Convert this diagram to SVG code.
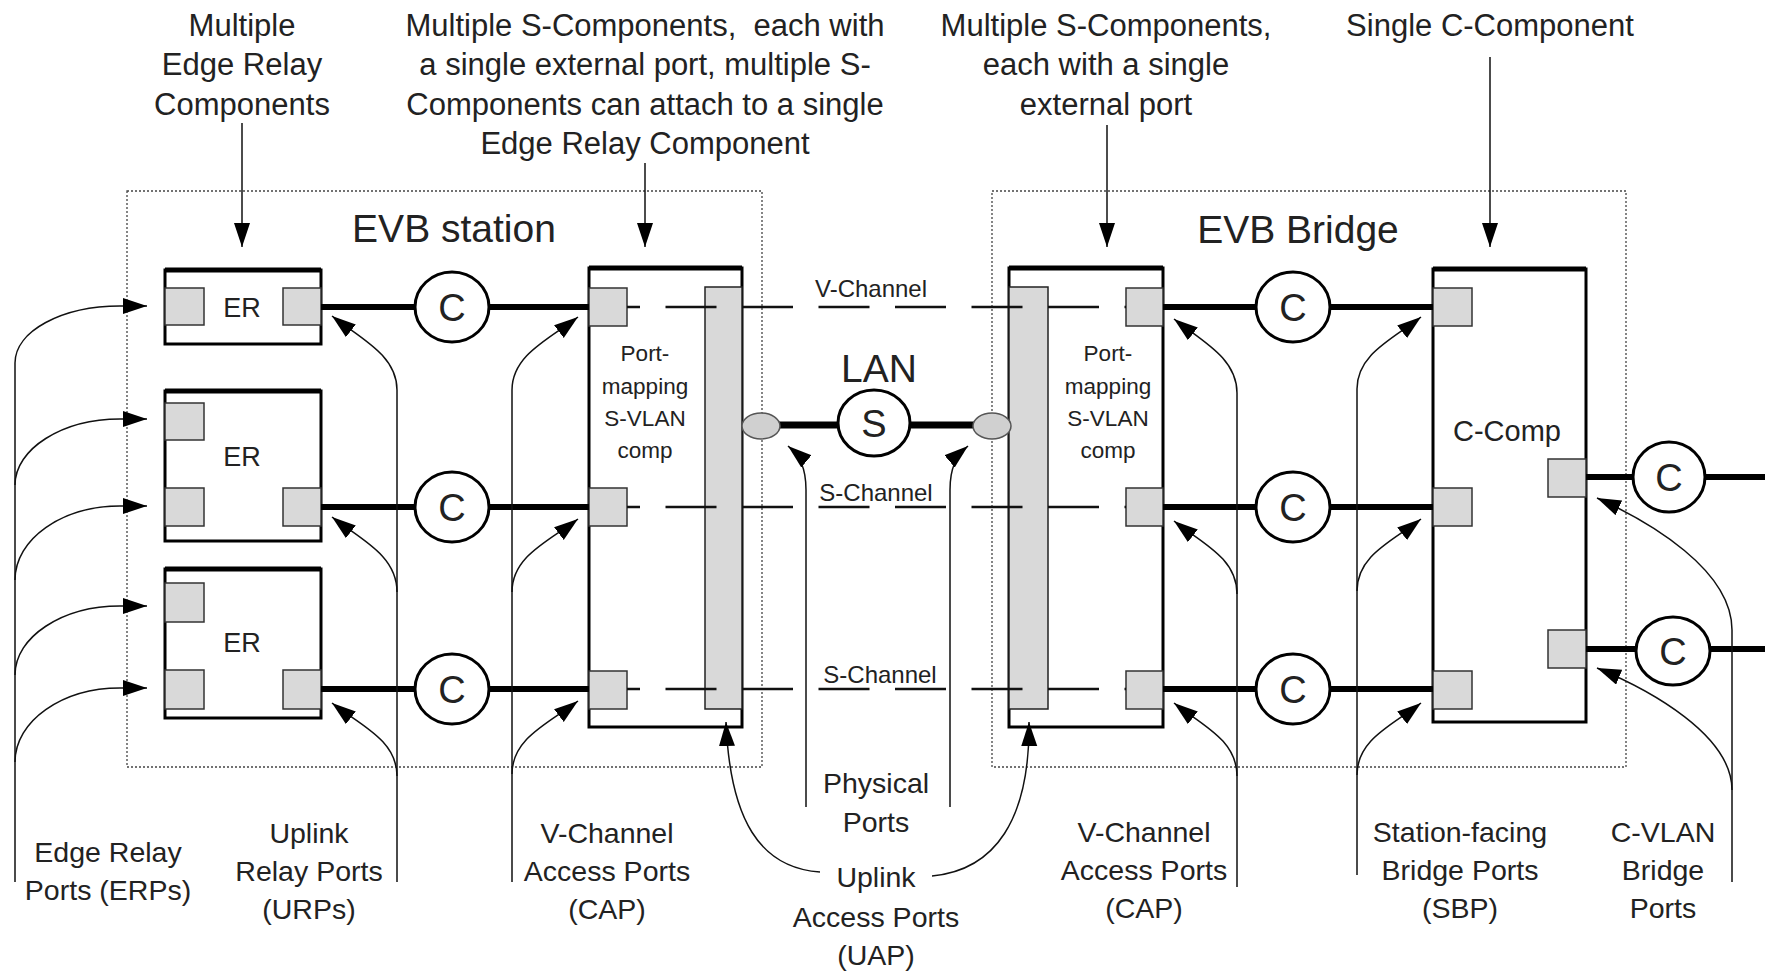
<svg xmlns="http://www.w3.org/2000/svg" width="1765" height="971" viewBox="0 0 1765 971">
<defs>
<marker id="ah" markerWidth="26" markerHeight="18" refX="24" refY="8" orient="auto" markerUnits="userSpaceOnUse"><path d="M0,0 L24,8 L0,16 z" fill="#000"/></marker>
<style>
text{font-family:"Liberation Sans",Arial,sans-serif;fill:#222;text-anchor:middle}
.top{font-size:31px;white-space:pre}
.bot{font-size:28.5px}
.title{font-size:39px}
.er{font-size:27px}
.pm{font-size:22.5px}
.ch{font-size:24px}
.circ{font-size:38px}
.port{fill:#d9d9d9;stroke:#333;stroke-width:1.5}
.box{fill:#fff;stroke:#000;stroke-width:3}
.topedge{stroke:#000;stroke-width:5}
.bar{fill:#d9d9d9;stroke:#222;stroke-width:1.5}
.dot{fill:none;stroke:#444;stroke-width:1.3;stroke-dasharray:2 2}
.thick{stroke:#000;stroke-width:6;fill:none}
.dash{stroke:#111;stroke-width:2.5;stroke-dasharray:51 25.5;stroke-dashoffset:38;fill:none}
.ann{fill:none;stroke:#111;stroke-width:1.5;marker-end:url(#ah)}
.cc{fill:#fff;stroke:#000;stroke-width:3}
.up{fill:#d0d0d0;stroke:#555;stroke-width:1.5}
</style>
</defs>
<rect width="1765" height="971" fill="#fff"/>

<g id="evb-station-frame">
<rect class="dot" x="127" y="191" width="635" height="576"/>
<text class="title" x="454" y="242">EVB station</text>
</g>
<g id="evb-bridge-frame">
<rect class="dot" x="992" y="191" width="634" height="576"/>
<text class="title" x="1298" y="243">EVB Bridge</text>
</g>

<g id="er1">
<rect class="box" x="165" y="270" width="156" height="74"/>
<line class="topedge" x1="165" y1="270" x2="321" y2="270"/>
<rect class="port" x="165" y="288" width="39" height="37"/>
<rect class="port" x="283" y="288" width="38" height="37"/>
<text class="er" x="242" y="317">ER</text>
</g>
<g id="er2">
<rect class="box" x="165" y="391" width="156" height="150"/>
<line class="topedge" x1="165" y1="391" x2="321" y2="391"/>
<rect class="port" x="165" y="403" width="39" height="37"/>
<rect class="port" x="165" y="488" width="39" height="38"/>
<rect class="port" x="283" y="488" width="38" height="38"/>
<text class="er" x="242" y="466">ER</text>
</g>
<g id="er3">
<rect class="box" x="165" y="569" width="156" height="149"/>
<line class="topedge" x1="165" y1="569" x2="321" y2="569"/>
<rect class="port" x="165" y="583" width="39" height="39"/>
<rect class="port" x="165" y="670" width="39" height="39"/>
<rect class="port" x="283" y="670" width="38" height="39"/>
<text class="er" x="242" y="652">ER</text>
</g>

<g id="station-svlan">
<rect class="box" x="589" y="268" width="153" height="459"/>
<line class="topedge" x1="589" y1="268" x2="742" y2="268"/>
<rect class="bar" x="705" y="287" width="37" height="422"/>
<rect class="port" x="589" y="288" width="38" height="38"/>
<rect class="port" x="589" y="488" width="38" height="38"/>
<rect class="port" x="589" y="671" width="38" height="38"/>
<text class="pm" x="645" y="361">Port-</text>
<text class="pm" x="645" y="394">mapping</text>
<text class="pm" x="645" y="426">S-VLAN</text>
<text class="pm" x="645" y="458">comp</text>
</g>

<g id="bridge-svlan">
<rect class="box" x="1009" y="268" width="154" height="459"/>
<line class="topedge" x1="1009" y1="268" x2="1163" y2="268"/>
<rect class="bar" x="1009" y="287" width="39" height="422"/>
<rect class="port" x="1126" y="288" width="37" height="38"/>
<rect class="port" x="1126" y="488" width="37" height="38"/>
<rect class="port" x="1126" y="671" width="37" height="38"/>
<text class="pm" x="1108" y="361">Port-</text>
<text class="pm" x="1108" y="394">mapping</text>
<text class="pm" x="1108" y="426">S-VLAN</text>
<text class="pm" x="1108" y="458">comp</text>
</g>

<g id="c-comp">
<rect class="box" x="1433" y="269" width="153" height="453"/>
<line class="topedge" x1="1433" y1="269" x2="1586" y2="269"/>
<rect class="port" x="1433" y="288" width="39" height="38"/>
<rect class="port" x="1433" y="488" width="39" height="38"/>
<rect class="port" x="1433" y="671" width="39" height="38"/>
<rect class="port" x="1548" y="459" width="38" height="38"/>
<rect class="port" x="1548" y="630" width="38" height="38"/>
<text style="font-size:29px" x="1507" y="441">C-Comp</text>
</g>

<g id="connectors">
<path class="thick" d="M321 307H589M321 507H589M321 689H589"/>
<path class="thick" d="M1163 307H1433M1163 507H1433M1163 689H1433"/>
<path class="thick" d="M1586 477H1765M1586 649H1765"/>
<path class="thick" style="stroke-width:7" d="M761 425H992"/>
<path class="dash" d="M627 307H1126"/>
<path class="dash" d="M627 507H1126"/>
<path class="dash" d="M627 689H1126"/>
</g>

<g id="channel-labels">
<text class="ch" x="871" y="297">V-Channel</text>
<text class="ch" x="876" y="501">S-Channel</text>
<text class="ch" x="880" y="683">S-Channel</text>
</g>

<g id="station-c1"><ellipse class="cc" cx="452" cy="307" rx="37" ry="35"/><text class="circ" x="452" y="321">C</text></g>
<g id="station-c2"><ellipse class="cc" cx="452" cy="507" rx="37" ry="35"/><text class="circ" x="452" y="521">C</text></g>
<g id="station-c3"><ellipse class="cc" cx="452" cy="689" rx="37" ry="35"/><text class="circ" x="452" y="703">C</text></g>
<g id="bridge-c1"><ellipse class="cc" cx="1293" cy="307" rx="37" ry="35"/><text class="circ" x="1293" y="321">C</text></g>
<g id="bridge-c2"><ellipse class="cc" cx="1293" cy="507" rx="37" ry="35"/><text class="circ" x="1293" y="521">C</text></g>
<g id="bridge-c3"><ellipse class="cc" cx="1293" cy="689" rx="37" ry="35"/><text class="circ" x="1293" y="703">C</text></g>
<g id="cvlan-c1"><ellipse class="cc" cx="1669" cy="477" rx="36" ry="35"/><text class="circ" x="1669" y="491">C</text></g>
<g id="cvlan-c2"><ellipse class="cc" cx="1673" cy="651" rx="37" ry="34"/><text class="circ" x="1673" y="665">C</text></g>

<g id="lan">
<text style="font-size:39px" x="879" y="382">LAN</text>
<ellipse class="cc" cx="874" cy="423" rx="36" ry="33"/>
<text class="circ" x="874" y="437">S</text>
</g>
<g id="uap-station"><ellipse class="up" cx="761" cy="426" rx="19" ry="13"/></g>
<g id="uap-bridge"><ellipse class="up" cx="992" cy="426" rx="19" ry="13"/></g>

<g id="top-labels">
<text class="top" x="242" y="36">Multiple</text>
<text class="top" x="242" y="75">Edge Relay</text>
<text class="top" x="242" y="115">Components</text>
<text class="top" x="645" y="36" xml:space="preserve">Multiple S-Components,  each with</text>
<text class="top" x="645" y="75">a single external port, multiple S-</text>
<text class="top" x="645" y="115">Components can attach to a single</text>
<text class="top" x="645" y="154">Edge Relay Component</text>
<text class="top" x="1106" y="36">Multiple S-Components,</text>
<text class="top" x="1106" y="75">each with a single</text>
<text class="top" x="1106" y="115">external port</text>
<text class="top" x="1490" y="36">Single C-Component</text>
</g>

<g id="annotation-arrows">
<path class="ann" d="M242 123V247"/>
<path class="ann" d="M645 163V247"/>
<path class="ann" d="M1107 125V247"/>
<path class="ann" d="M1490 57V247"/>
<path class="ann" d="M15 882V363C15 331 62 306 120 306L147 306"/>
<path class="ann" d="M15 485C15 449 62 419 120 419L147 419"/>
<path class="ann" d="M15 580C15 539 62 506 120 506L147 506"/>
<path class="ann" d="M15 675C15 637 62 606 120 606L147 606"/>
<path class="ann" d="M15 762C15 721 62 688 120 688L147 688"/>
<path class="ann" d="M397 882V390C397 355 360 338 332 316"/>
<path class="ann" d="M397 592C397 555 360 539 332 517"/>
<path class="ann" d="M397 776C397 740 360 725 332 703"/>
<path class="ann" d="M512 882V390C512 355 549 339 578 317"/>
<path class="ann" d="M512 592C512 556 549 541 578 519"/>
<path class="ann" d="M512 774C512 738 549 723 578 701"/>
<path class="ann" d="M806 807V490C806 468 800 456 788 446"/>
<path class="ann" d="M950 807V490C950 468 956 456 968 446"/>
<path class="ann" d="M820 872C760 868 730 820 726 722"/>
<path class="ann" d="M932 876C995 870 1030 820 1029 722"/>
<path class="ann" d="M1237 887V393C1237 358 1202 341 1174 319"/>
<path class="ann" d="M1237 594C1237 558 1202 543 1174 521"/>
<path class="ann" d="M1237 776C1237 740 1202 725 1174 703"/>
<path class="ann" d="M1357 875V389C1357 354 1393 339 1421 317"/>
<path class="ann" d="M1357 591C1357 555 1393 541 1421 519"/>
<path class="ann" d="M1357 775C1357 739 1393 725 1421 703"/>
<path class="ann" d="M1732 882V630C1732 570 1650 522 1597 498"/>
<path class="ann" d="M1732 790C1732 735 1650 690 1597 668"/>
</g>

<g id="bottom-labels">
<text class="bot" x="108" y="862">Edge Relay</text>
<text class="bot" x="108" y="900">Ports (ERPs)</text>
<text class="bot" x="309" y="843">Uplink</text>
<text class="bot" x="309" y="881">Relay Ports</text>
<text class="bot" x="309" y="919">(URPs)</text>
<text class="bot" x="607" y="843">V-Channel</text>
<text class="bot" x="607" y="881">Access Ports</text>
<text class="bot" x="607" y="919">(CAP)</text>
<text class="bot" x="876" y="793">Physical</text>
<text class="bot" x="876" y="832">Ports</text>
<text class="bot" x="876" y="887">Uplink</text>
<text class="bot" x="876" y="927">Access Ports</text>
<text class="bot" x="876" y="965">(UAP)</text>
<text class="bot" x="1144" y="842">V-Channel</text>
<text class="bot" x="1144" y="880">Access Ports</text>
<text class="bot" x="1144" y="918">(CAP)</text>
<text class="bot" x="1460" y="842">Station-facing</text>
<text class="bot" x="1460" y="880">Bridge Ports</text>
<text class="bot" x="1460" y="918">(SBP)</text>
<text class="bot" x="1663" y="842">C-VLAN</text>
<text class="bot" x="1663" y="880">Bridge</text>
<text class="bot" x="1663" y="918">Ports</text>
</g>
</svg>
